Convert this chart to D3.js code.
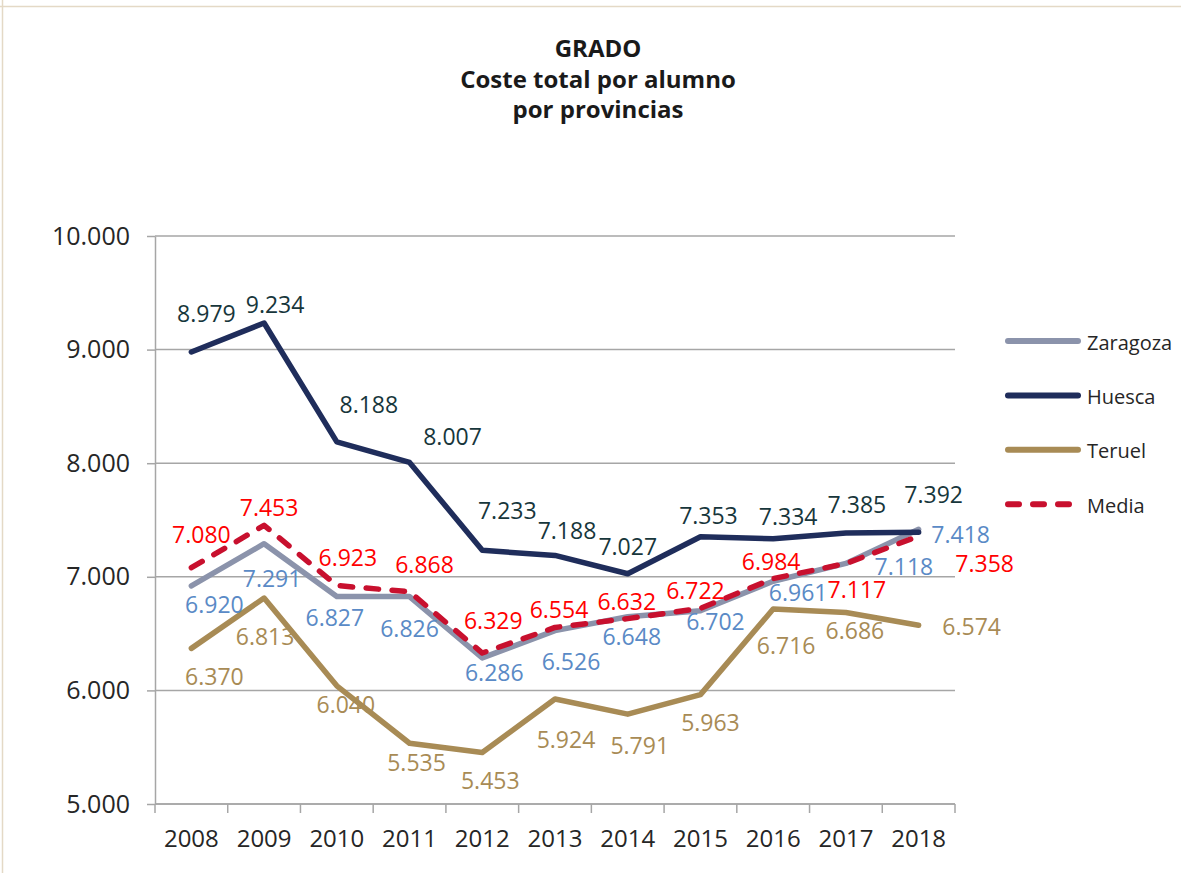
<!DOCTYPE html>
<html>
<head>
<meta charset="utf-8">
<script src="https://cdn.jsdelivr.net/npm/d3@7"></script>
<style>
  body { margin: 0; background: #ffffff; }
  svg { display: block; font-family: "Open Sans", sans-serif; }
</style>
</head>
<body>
<div id="vizContainer"></div>
<script>
// chart data
var years = ['2008', '2009', '2010', '2011', '2012', '2013', '2014', '2015', '2016', '2017', '2018'];
var zaragoza = [6920, 7291, 6827, 6826, 6286, 6526, 6648, 6702, 6961, 7118, 7418];
var huesca = [8979, 9234, 8188, 8007, 7233, 7188, 7027, 7353, 7334, 7385, 7392];
var teruel = [6370, 6813, 6040, 5535, 5453, 5924, 5791, 5963, 6716, 6686, 6574];
var media = [7080, 7453, 6923, 6868, 6329, 6554, 6632, 6722, 6984, 7117, 7358];
var yTicks = [5000, 6000, 7000, 8000, 9000, 10000];
var titleLines = ['GRADO', 'Coste total por alumno', 'por provincias'];

// label offsets from each point (in pixels), to keep the labels
// where the original chart put them
var zaragozaOffsets = [[23, 18], [8, 34], [-2, 21], [0, 31], [12, 14], [16, 30], [4, 19], [15, 10], [25, 11], [58, 3], [42, 5]];
var huescaOffsets = [[15, -39], [11, -19], [32, -38], [43, -26], [25, -40], [12, -25], [0, -28], [8, -22], [15, -23], [11, -29], [15, -38]];
var teruelOffsets = [[23, 28], [1, 38], [9, 18], [7, 19], [8, 27], [11, 40], [12, 31], [10, 27], [13, 36], [9, 18], [53, 1]];
var mediaOffsets = [[10, -34], [5, -18], [11, -29], [15, -28], [11, -33], [4, -18], [-1, -18], [-5, -18], [-2, -18], [11, 25], [66, 27]];

var series = [
    { name: 'Teruel', values: teruel, offsets: teruelOffsets, line: '#a88b55', label: '#a88b55', dash: null },
    { name: 'Zaragoza', values: zaragoza, offsets: zaragozaOffsets, line: '#8b93ab', label: '#5a8ac6', dash: null },
    { name: 'Huesca', values: huesca, offsets: huescaOffsets, line: '#1f2d5b', label: '#17363b', dash: null },
    { name: 'Media', values: media, offsets: mediaOffsets, line: '#c8102e', label: '#ff0000', dash: '12.5,13.5' }
];
var legendOrder = ['Zaragoza', 'Huesca', 'Teruel', 'Media'];

var width = 1181, height = 873;
var plotLeft = 155, plotRight = 955, plotTop = 236, plotBottom = 804;

var locale = d3.formatLocale({ decimal: ',', thousands: '.', grouping: [3], currency: ['', '€'] });
var fmt = locale.format(',d');

var svg = d3.select('#vizContainer').append('svg')
    .attr('width', width)
    .attr('height', height)
    .attr('viewBox', '0 0 ' + width + ' ' + height);

// thin beige frame of the original sheet
svg.append('line').attr('x1', 2.5).attr('x2', 2.5).attr('y1', 0).attr('y2', height)
    .attr('stroke', '#e4d9c6').attr('stroke-width', 1.5);
svg.append('line').attr('x1', 0).attr('x2', width).attr('y1', 6.5).attr('y2', 6.5)
    .attr('stroke', '#e4d9c6').attr('stroke-width', 1.5);

var x = d3.scaleBand().domain(years).range([plotLeft, plotRight]);
var y = d3.scaleLinear().domain([5000, 10000]).range([plotBottom, plotTop]);
function cx(year) { return x(year) + x.bandwidth() / 2; }

// title
svg.append('g').selectAll('text').data(titleLines).enter().append('text')
    .attr('x', 598)
    .attr('y', function(d, i) { return 57 + i * 30.5; })
    .attr('text-anchor', 'middle')
    .attr('font-size', 24)
    .attr('font-weight', 'bold')
    .attr('fill', '#1a1a1a')
    .text(function(d) { return d; });

// horizontal grid lines
svg.append('g').selectAll('line').data(yTicks).enter().append('line')
    .attr('x1', plotLeft).attr('x2', plotRight)
    .attr('y1', function(d) { return y(d); })
    .attr('y2', function(d) { return y(d); })
    .attr('stroke', '#a6a6a6').attr('stroke-width', 1.5);

// y axis
var yAxis = svg.append('g')
    .attr('transform', 'translate(' + plotLeft + ',0)')
    .call(d3.axisLeft(y).tickValues(yTicks).tickFormat(fmt).tickSize(8).tickSizeOuter(0).tickPadding(17));
yAxis.select('.domain').attr('stroke', '#a6a6a6').attr('stroke-width', 1.5);
yAxis.selectAll('.tick line').attr('stroke', '#a6a6a6').attr('stroke-width', 1.5);
yAxis.selectAll('.tick text').attr('font-size', 25).attr('fill', '#262626')
    .attr('font-family', '"Open Sans", sans-serif');

// x axis: labels centred, ticks on the band edges
var xAxis = svg.append('g')
    .attr('transform', 'translate(0,' + plotBottom + ')')
    .call(d3.axisBottom(x).tickSize(0).tickPadding(26));
xAxis.select('.domain').remove();
xAxis.selectAll('.tick text').attr('font-size', 24).attr('fill', '#262626')
    .attr('font-family', '"Open Sans", sans-serif');
var edges = years.map(function(d) { return x(d); }).concat([plotRight]);
svg.append('g').selectAll('line').data(edges).enter().append('line')
    .attr('x1', function(d) { return d; }).attr('x2', function(d) { return d; })
    .attr('y1', plotBottom).attr('y2', plotBottom + 9)
    .attr('stroke', '#a6a6a6').attr('stroke-width', 1.5);
svg.append('line').attr('x1', plotLeft).attr('x2', plotRight)
    .attr('y1', plotBottom).attr('y2', plotBottom)
    .attr('stroke', '#a6a6a6').attr('stroke-width', 1.5);

// lines
var line = d3.line()
    .x(function(d, i) { return cx(years[i]); })
    .y(function(d) { return y(d); });

svg.append('g').selectAll('path').data(series).enter().append('path')
    .attr('d', function(s) { return line(s.values); })
    .attr('fill', 'none')
    .attr('stroke', function(s) { return s.line; })
    .attr('stroke-width', 5.5)
    .attr('stroke-linejoin', 'round')
    .attr('stroke-linecap', 'round')
    .attr('stroke-dasharray', function(s) { return s.dash; });

// data labels
series.forEach(function(s) {
    svg.append('g').selectAll('text').data(s.values).enter().append('text')
        .attr('x', function(d, i) { return cx(years[i]) + s.offsets[i][0]; })
        .attr('y', function(d, i) { return y(d) + s.offsets[i][1]; })
        .attr('text-anchor', 'middle')
        .attr('dominant-baseline', 'central')
        .attr('font-size', 23)
        .attr('fill', s.label)
        .text(function(d) { return fmt(d); });
});

// legend
var legend = svg.append('g').selectAll('g').data(legendOrder).enter().append('g')
    .attr('transform', function(d, i) { return 'translate(1005,' + (341 + i * 54.4) + ')'; });
legend.append('line')
    .attr('x1', 3).attr('x2', function(d) { return d === 'Media' ? 64 : 73; })
    .attr('y1', 0).attr('y2', 0)
    .attr('stroke', function(d) { return series.find(function(s) { return s.name === d; }).line; })
    .attr('stroke-width', 6)
    .attr('stroke-linecap', 'round')
    .attr('stroke-dasharray', function(d) { return d === 'Media' ? '11,14' : null; });
legend.append('text')
    .attr('x', 82).attr('y', 1)
    .attr('dominant-baseline', 'central')
    .attr('font-size', 20)
    .attr('fill', '#262626')
    .text(function(d) { return d; });
</script>
</body>
</html>
